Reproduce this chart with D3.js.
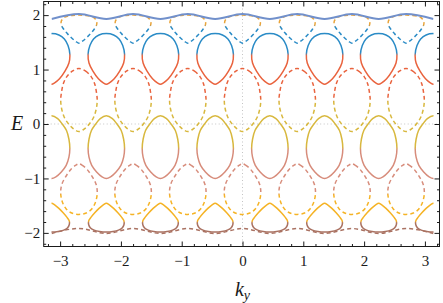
<!DOCTYPE html>
<html>
<head>
<meta charset="utf-8">
<script src="https://cdn.jsdelivr.net/npm/d3@7"></script>
<style>
  body { margin: 0; background: #fff; }
  svg text { font-family: "Liberation Serif", "DejaVu Serif", "Times New Roman", serif; fill: #1a1a1a; }
</style>
</head>
<body>
<svg width="443" height="303"></svg>
<script>
// loop centres along k_y (solid loops sit on the odd ones, dashed on the even ones)
const oddCentres = [-3.14, -2.24, -1.35, -0.45, 0.45, 1.35, 2.24, 3.14];
const evenCentres = [-2.69, -1.80, -0.90, 0, 0.90, 1.80, 2.69];
const kyLimits = [-3.1416, 3.1416];

const xTicks = [-3, -2, -1, 0, 1, 2, 3];
const yTicks = [-2, -1, 0, 1, 2];

// the two wavy bands at top and bottom, sampled at the loop centres
const waveKy  = [-3.14, -2.69, -2.24, -1.80, -1.35, -0.90, -0.45, 0, 0.45, 0.90, 1.35, 1.80, 2.24, 2.69, 3.14];
const topWaveE    = [1.93, 2.02, 1.93, 2.02, 1.93, 2.02, 1.93, 2.02, 1.93, 2.02, 1.93, 2.02, 1.93, 2.02, 1.93];
const bottomWaveE = [-2.01, -1.92, -2.01, -1.92, -2.01, -1.92, -2.01, -1.92, -2.01, -1.92, -2.01, -1.92, -2.01, -1.92, -2.01];

// loop outlines: [E, half width in k_y], from top to bottom
const loopTopDashed = [[2.00, 0], [1.995, 0.11], [1.98, 0.19], [1.95, 0.25], [1.89, 0.29], [1.82, 0.29],
  [1.74, 0.25], [1.66, 0.19], [1.58, 0.12], [1.515, 0.05], [1.485, 0]];
const loopTopSolid = [[1.66, 0], [1.635, 0.12], [1.56, 0.21], [1.44, 0.27], [1.28, 0.30], [1.12, 0.285],
  [0.97, 0.22], [0.83, 0.13], [0.755, 0.05], [0.73, 0]];
const loopMidDashed = [[1.02, 0], [0.97, 0.11], [0.87, 0.20], [0.75, 0.255], [0.60, 0.285], [0.44, 0.30],
  [0.28, 0.285], [0.12, 0.24], [0.0, 0.17], [-0.09, 0.09], [-0.14, 0]];
const loopMidSolid = [[0.15, 0], [0.10, 0.10], [0.0, 0.175], [-0.12, 0.245], [-0.28, 0.285], [-0.45, 0.30],
  [-0.61, 0.285], [-0.76, 0.24], [-0.88, 0.16], [-0.97, 0.07], [-1.0, 0]];
const loopLowDashed = [[-0.73, 0], [-0.755, 0.05], [-0.83, 0.13], [-0.97, 0.22], [-1.12, 0.285], [-1.28, 0.30],
  [-1.44, 0.27], [-1.56, 0.21], [-1.635, 0.12], [-1.66, 0]];
const loopLowSolid = [[-1.455, 0], [-1.485, 0.05], [-1.55, 0.12], [-1.63, 0.19], [-1.71, 0.25], [-1.78, 0.29],
  [-1.85, 0.29], [-1.91, 0.26], [-1.95, 0.20], [-1.975, 0.11], [-1.985, 0]];

const colors = {
  steel: '#7190cb', blue: '#2a8bc6', orange: '#e9a43a', red: '#e9633e',
  mustard: '#d8b83e', salmon: '#d78c7b', gold: '#f5b325', brown: '#aa7262'
};

const loops = [
  { id: 'ld1', shape: loopTopDashed, centres: evenCentres, top: colors.orange, bottom: colors.blue, split: 1.80, dashed: true },
  { id: 'ls1', shape: loopTopSolid, centres: oddCentres, top: colors.blue, bottom: colors.red, split: 1.28, dashed: false },
  { id: 'ld2', shape: loopMidDashed, centres: evenCentres, top: colors.red, bottom: colors.mustard, split: 0.44, dashed: true },
  { id: 'ls2', shape: loopMidSolid, centres: oddCentres, top: colors.mustard, bottom: colors.salmon, split: -0.45, dashed: false },
  { id: 'ld3', shape: loopLowDashed, centres: evenCentres, top: colors.salmon, bottom: colors.gold, split: -1.28, dashed: true },
  { id: 'ls3', shape: loopLowSolid, centres: oddCentres, top: colors.gold, bottom: colors.brown, split: -1.80, dashed: false }
];

const svg = d3.select('svg');
const x = d3.scaleLinear().domain([-3.27, 3.24]).range([43.7, 439.5]);
const y = d3.scaleLinear().domain([-2.25, 2.25]).range([246.5, 1.5]);

const defs = svg.append('defs');
defs.append('clipPath').attr('id', 'kclip')
  .append('rect')
  .attr('x', x(kyLimits[0])).attr('y', y.range()[1])
  .attr('width', x(kyLimits[1]) - x(kyLimits[0]))
  .attr('height', y.range()[0] - y.range()[1]);

// vertical gradient per loop type: top colour above the widest point, bottom colour below
loops.forEach(l => {
  const eTop = l.shape[0][0], eBot = l.shape[l.shape.length - 1][0];
  const off = (eTop - l.split) / (eTop - eBot);
  const g = defs.append('linearGradient').attr('id', l.id)
    .attr('x1', 0).attr('y1', 0).attr('x2', 0).attr('y2', 1);
  g.append('stop').attr('offset', off - 0.03).attr('stop-color', l.top);
  g.append('stop').attr('offset', off + 0.03).attr('stop-color', l.bottom);
});

// dotted guide lines at zero
svg.append('line')
  .attr('x1', x(0)).attr('x2', x(0)).attr('y1', y.range()[1]).attr('y2', y.range()[0])
  .attr('stroke', '#c4c4c4').attr('stroke-width', 1).attr('stroke-dasharray', '1,2.5');
svg.append('line')
  .attr('x1', x.range()[0]).attr('x2', x.range()[1]).attr('y1', y(0)).attr('y2', y(0))
  .attr('stroke', '#c4c4c4').attr('stroke-width', 1).attr('stroke-dasharray', '1,2.5');

const plot = svg.append('g').attr('clip-path', 'url(#kclip)');

const loopLine = d3.line()
  .x(d => x(d[0])).y(d => y(d[1]))
  .curve(d3.curveCatmullRomClosed.alpha(0.5));

function outline(shape, c) {
  const right = shape.map(([e, w]) => [c + w, e]);
  const left = shape.slice(1, -1).reverse().map(([e, w]) => [c - w, e]);
  return right.concat(left);
}

loops.forEach(l => {
  plot.append('g').selectAll('path')
    .data(l.centres)
    .enter().append('path')
    .attr('d', c => loopLine(outline(l.shape, c)))
    .attr('fill', 'none')
    .attr('stroke', `url(#${l.id})`)
    .attr('stroke-width', 1.5)
    .attr('stroke-dasharray', l.dashed ? '4,3' : null);
});

const waveLine = d3.line()
  .x((d, i) => x(waveKy[i])).y(d => y(d))
  .curve(d3.curveMonotoneX);

plot.append('path')
  .attr('d', waveLine(topWaveE))
  .attr('fill', 'none').attr('stroke', colors.steel).attr('stroke-width', 2);

plot.append('path')
  .attr('d', waveLine(bottomWaveE))
  .attr('fill', 'none').attr('stroke', colors.brown).attr('stroke-width', 1.5)
  .attr('stroke-dasharray', '4,3');

// frame with inward ticks on all four sides
const fmt = d => d < 0 ? '\u2212' + Math.abs(d) : '' + d;
const minorX = x.ticks(32).filter(t => !xTicks.includes(Math.round(t * 10) / 10));
const minorY = y.ticks(22).filter(t => !yTicks.includes(Math.round(t * 10) / 10));

function axisPair(axisFn, scale, major, minor, pos, labels, pad) {
  const gMaj = svg.append('g').attr('transform', pos)
    .call(axisFn(scale).tickValues(major).tickSizeInner(-5).tickSizeOuter(0)
      .tickPadding(pad).tickFormat(labels ? fmt : ''));
  const gMin = svg.append('g').attr('transform', pos)
    .call(axisFn(scale).tickValues(minor).tickSizeInner(-2.5).tickSizeOuter(0).tickFormat(''));
  [gMaj, gMin].forEach(g => {
    g.attr('font-family', null).attr('font-size', null);
    g.select('.domain').remove();
    g.selectAll('line').attr('stroke', '#1a1a1a');
  });
  gMaj.selectAll('text').attr('font-size', 15).attr('fill', '#1a1a1a');
}

axisPair(d3.axisBottom, x, xTicks, minorX, `translate(0,${y.range()[0]})`, true, 9);
axisPair(d3.axisTop, x, xTicks, minorX, `translate(0,${y.range()[1]})`, false, 3);
axisPair(d3.axisLeft, y, yTicks, minorY, `translate(${x.range()[0]},0)`, true, 3.5);
axisPair(d3.axisRight, y, yTicks, minorY, `translate(${x.range()[1]},0)`, false, 3);

svg.append('rect')
  .attr('x', x.range()[0]).attr('y', y.range()[1])
  .attr('width', x.range()[1] - x.range()[0])
  .attr('height', y.range()[0] - y.range()[1])
  .attr('fill', 'none').attr('stroke', '#1a1a1a').attr('stroke-width', 1);

// axis titles
svg.append('text')
  .attr('x', 17).attr('y', y(0) + 6)
  .attr('text-anchor', 'middle')
  .attr('font-size', 20).attr('font-style', 'italic')
  .text('E');

const kLabel = svg.append('text')
  .attr('x', x(0)).attr('y', 296)
  .attr('text-anchor', 'middle')
  .attr('font-size', 20).attr('font-style', 'italic');
kLabel.append('tspan').text('k');
kLabel.append('tspan').attr('font-size', 14).attr('dy', 4).text('y');
</script>
</body>
</html>
